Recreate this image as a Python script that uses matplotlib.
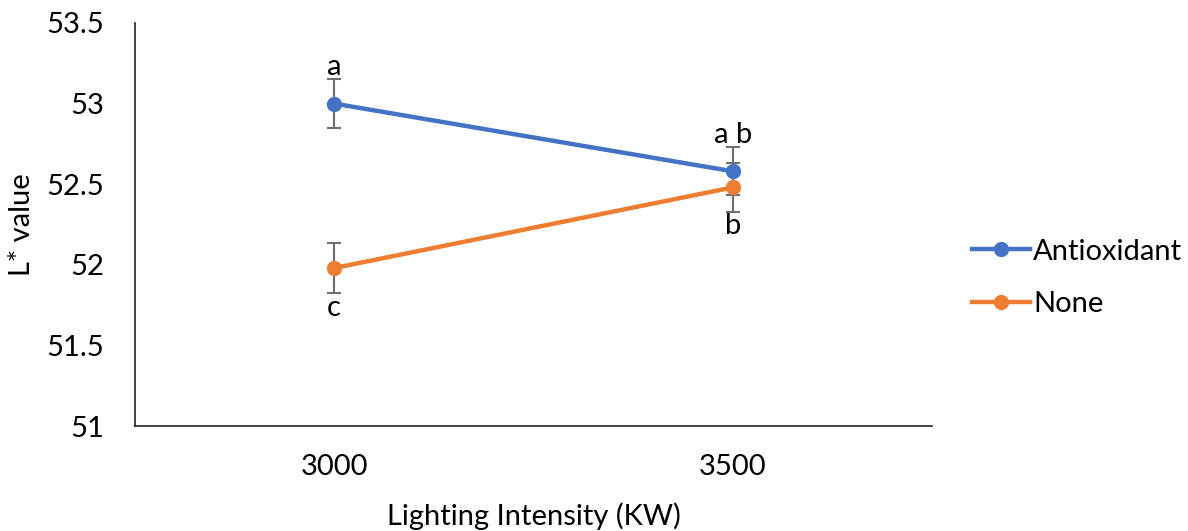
import matplotlib.pyplot as plt

plt.rcParams['font.family'] = ['Lato', 'DejaVu Sans']

# L* value by lighting intensity, with and without antioxidant
intensity = ["3000", "3500"]
antioxidant = [53.0, 52.58]
antioxidant_err = [0.15, 0.15]
none = [51.98, 52.48]
none_err = [0.155, 0.15]
antioxidant_letters = ["a", "a b"]
none_letters = ["c", "b"]

blue = "#4472C4"
orange = "#ED7D31"
fs = 21

fig = plt.figure(figsize=(11.88, 5.31), dpi=100)
ax = fig.add_axes([0.1136, 0.1977, 0.6709, 0.759])

x = [0.5, 1.5]
for vals, errs, color, name in [(antioxidant, antioxidant_err, blue, "Antioxidant"),
                                (none, none_err, orange, "None")]:
    ax.errorbar(x, vals, yerr=errs, fmt="none", ecolor="#6f6f6f",
                elinewidth=1.5, capsize=5, capthick=1.5, zorder=2)
    ax.plot(x, vals, color=color, lw=3.2, marker="o", ms=10, label=name, zorder=3)

# significance letters
for xi, v, e, t in zip(x, antioxidant, antioxidant_err, antioxidant_letters):
    ax.text(xi, v + e - 0.005, t, ha="center", va="bottom", fontsize=fs)
for xi, v, e, t in zip(x, none, none_err, none_letters):
    ax.text(xi, v - e - 0.01, t, ha="center", va="top", fontsize=fs)

ax.set_xlim(0, 2)
ax.set_ylim(51, 53.5)
ax.set_xticks(x)
ax.set_xticklabels(intensity)
ax.set_yticks([51, 51.5, 52, 52.5, 53, 53.5])
ax.set_yticklabels(["51", "51.5", "52", "52.5", "53", "53.5"])
ax.tick_params(length=0, labelsize=fs, pad=22)
ax.tick_params(axis="x", pad=20)
for s in ["top", "right"]:
    ax.spines[s].set_visible(False)
ax.spines["left"].set_color("#222222")
ax.spines["bottom"].set_color("#222222")
ax.spines["left"].set_linewidth(1.2)
ax.spines["bottom"].set_linewidth(1.2)

ax.set_xlabel("Lighting Intensity (KW)", fontsize=fs, labelpad=16)
ax.set_ylabel("L* value", fontsize=fs)
ax.yaxis.set_label_coords(-0.126, 0.5)

fig.legend(loc="center left", bbox_to_anchor=(0.818, 0.477), frameon=False,
           fontsize=fs, handlelength=2.0, handletextpad=0.1, labelspacing=0.9,
           borderpad=0, borderaxespad=0)

fig.savefig("out.png", dpi=100)
